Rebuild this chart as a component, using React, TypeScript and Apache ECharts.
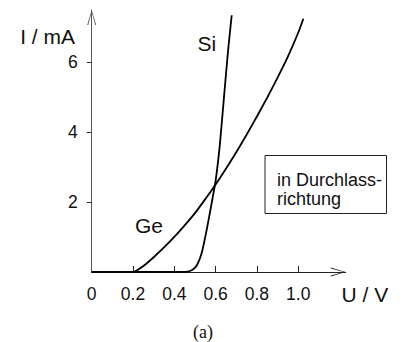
import React, { useEffect, useRef } from "react";
import * as echarts from "echarts";

// Ge diode forward characteristic (U in V, I in mA)
const geVoltage = [0, 0.2, 0.25, 0.3, 0.35, 0.4, 0.45, 0.5, 0.55, 0.6, 0.65, 0.7, 0.75, 0.8, 0.85, 0.9, 0.95, 1.0, 1.025];
const geCurrent = [0, 0, 0.17, 0.42, 0.7, 1.0, 1.33, 1.68, 2.08, 2.5, 2.95, 3.42, 3.92, 4.44, 4.98, 5.55, 6.15, 6.83, 7.23];

// Si diode forward characteristic
const siVoltage = [0, 0.44, 0.47, 0.49, 0.51, 0.533, 0.557, 0.581, 0.6, 0.62, 0.64, 0.66, 0.678];
const siCurrent = [0, 0, 0.02, 0.07, 0.2, 0.55, 1.21, 1.97, 2.6, 3.6, 4.95, 6.3, 7.33];

const xTickValues = [0.2, 0.4, 0.6, 0.8, 1.0];
const xLabelValues = [0, 0.2, 0.4, 0.6, 0.8, 1.0];
const yTickValues = [2, 4, 6];

const SANS = "'Liberation Sans', Arial, Helvetica, sans-serif";
const arrowPath = "path://M0,15 L4.5,0 L9,15 L8,15 L4.5,2 L1,15 Z";

export default function App() {
  const ref = useRef<HTMLDivElement>(null);
  useEffect(() => {
    if (!ref.current) return;
    const chart = echarts.init(ref.current, null, { renderer: "svg" });
    const zip = (xs: number[], ys: number[]) => xs.map((x, i) => [x, ys[i]]);
    chart.setOption({
      animation: false,
      backgroundColor: "#fff",
      grid: { left: 91.7, right: 57.3, top: 10, bottom: 70 },
      xAxis: {
        type: "value",
        min: 0,
        max: 1.23,
        splitLine: { show: false },
        axisLine: {
          show: true,
          onZero: false,
          lineStyle: { color: "#222", width: 1 },
          symbol: ["none", arrowPath],
          symbolSize: [9, 15],
          symbolOffset: [0, -7.5],
        },
        axisTick: { show: true, inside: true, length: 6, customValues: xTickValues, lineStyle: { color: "#222" } },
        axisLabel: {
          customValues: xLabelValues,
          formatter: (v: number) => (v === 0 ? "0" : v.toFixed(1)),
          color: "#111",
          fontFamily: SANS,
          fontSize: 17.5,
          margin: 13,
        },
      },
      yAxis: {
        type: "value",
        min: 0,
        max: 7.48,
        splitLine: { show: false },
        axisLine: {
          show: true,
          onZero: false,
          lineStyle: { color: "#555", width: 1 },
          symbol: ["none", arrowPath],
          symbolSize: [9, 15],
          symbolOffset: [0, -7.5],
        },
        axisTick: { show: true, inside: false, length: 5, customValues: yTickValues, lineStyle: { color: "#333" } },
        axisLabel: {
          customValues: yTickValues,
          color: "#111",
          fontFamily: SANS,
          fontSize: 17.5,
          margin: 14,
        },
      },
      series: [
        {
          name: "Ge",
          type: "line",
          data: zip(geVoltage, geCurrent),
          showSymbol: false,
          symbol: "none",
          smooth: 0.2,
          lineStyle: { color: "#000", width: 1.8 },
        },
        {
          name: "Si",
          type: "line",
          data: zip(siVoltage, siCurrent),
          showSymbol: false,
          symbol: "none",
          smooth: 0.2,
          lineStyle: { color: "#000", width: 1.8 },
        },
      ],
      graphic: [
        { type: "text", x: 75, y: 36, style: { text: "I / mA", font: `21px ${SANS}`, fill: "#111", align: "right", verticalAlign: "middle" } },
        { type: "text", x: 341.5, y: 294.5, style: { text: "U / V", font: `21px ${SANS}`, fill: "#111", align: "left", verticalAlign: "middle" } },
        { type: "text", x: 197.5, y: 43.5, style: { text: "Si", font: `21px ${SANS}`, fill: "#111", align: "left", verticalAlign: "middle" } },
        { type: "text", x: 135, y: 225.5, style: { text: "Ge", font: `21px ${SANS}`, fill: "#111", align: "left", verticalAlign: "middle" } },
        { type: "rect", shape: { x: 265, y: 155.5, width: 121.5, height: 58 }, style: { fill: "#fff", stroke: "#222", lineWidth: 1 }, z: 10 },
        { type: "text", x: 277, y: 170, z: 11, style: { text: "in Durchlass-\nrichtung", font: `18px ${SANS}`, fill: "#111", align: "left", verticalAlign: "top", lineHeight: 19 } },
        { type: "text", x: 203, y: 332, style: { text: "(a)", font: `18px 'Liberation Serif', 'Times New Roman', serif`, fill: "#111", align: "center", verticalAlign: "middle" } },
      ],
    });
    return () => chart.dispose();
  }, []);
  return <div ref={ref} style={{ position: "fixed", left: 0, top: 0, width: 403, height: 342 }} />;
}
